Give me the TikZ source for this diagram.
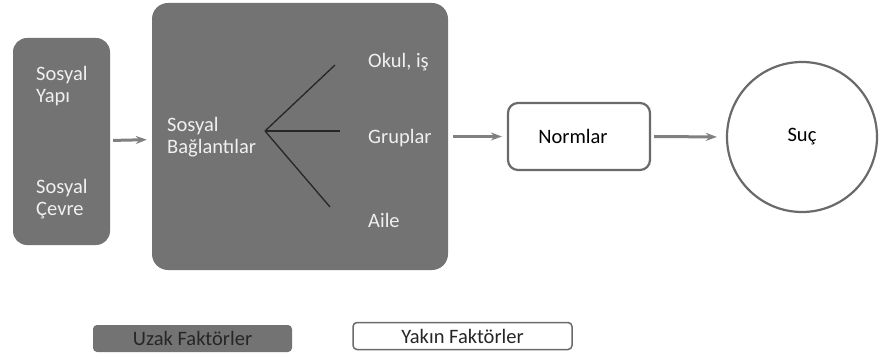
\documentclass[tikz,border=0pt]{standalone}
\usepackage{fontspec}
\setmainfont{Carlito}
\usepackage{tikz}
\usetikzlibrary{positioning, arrows.meta}

\definecolor{boxgray}{HTML}{737373}
\definecolor{edgegray}{HTML}{6A6A6A}
\definecolor{arrowgray}{HTML}{808080}
\definecolor{inkdark}{HTML}{262626}

\begin{document}
\begin{tikzpicture}[
  x=1pt, y=-1pt,
  font=\fontsize{20.5}{22}\selectfont,
  farbox/.style={rectangle, fill=boxgray, draw=none, rounded corners=14pt},
  nearbox/.style={rectangle, draw=edgegray, line width=2.2pt, rounded corners=10pt, fill=white},
  lbl/.style={text=white!94!black, anchor=west, align=left, inner sep=0pt},
  legendbox/.style={rectangle, minimum height=27pt, rounded corners=4pt, inner sep=0pt, text=inkdark},
  flow/.style={-{Stealth[length=11pt, width=8pt]}, arrowgray, line width=3pt},
  branch/.style={inkdark, line width=1.3pt}
]
\useasboundingbox (0,0) rectangle (880,358);

% Boxes
\node[farbox, minimum width=97pt, minimum height=207pt] (yapibox) at (61.5,141.5) {};
\node[farbox, minimum width=296pt, minimum height=267pt, rounded corners=16pt] (baglbox) at (300,136.5) {};
\node[nearbox, minimum width=142pt, minimum height=67pt] (normlar) at (579,136.5) {Normlar\hspace*{12pt}};
\node[circle, draw=edgegray, line width=2.2pt, minimum size=150pt] (suc) at (802,137) {Suç};

% Texts in the boxes
\node[lbl] (yapi) at (36,86) {Sosyal\\Yapı};
\node[lbl] (cevre) at (36,199) {Sosyal\\Çevre};
\node[lbl] (bagl) at (167,137.5) {Sosyal\\Bağlantılar};
\node[lbl] (okul) at (368,62) {Okul, iş};
\node[lbl] (gruplar) at (368,138) {Gruplar};
\node[lbl] (aile) at (368,220) {Aile};

% Branches
\coordinate (hub) at (265,131);
\coordinate (okulend) at (335,65);
\coordinate (grupend) at (340,131);
\coordinate (aileend) at (330,207);
\draw[branch] (hub) -- (okulend);
\draw[branch] (hub) -- (grupend);
\draw[branch] (hub) -- (aileend);

% Flow
\draw[flow, shorten <=3pt, shorten >=5pt] (yapibox) -- (baglbox);
\draw[flow, shorten <=5pt, shorten >=5pt] (baglbox.east |- normlar.west) -- (normlar.west);
\draw[flow, shorten <=3pt, shorten >=9pt] (normlar.east) -- (suc.west);

% Legend
\node[legendbox, fill=boxgray, minimum width=199pt] (uzak) at (192.5,338.5) {Uzak Faktörler};
\node[legendbox, draw=edgegray, line width=1.5pt, fill=white, minimum width=219pt] (yakin) at (462.5,336) {Yakın Faktörler};

\end{tikzpicture}
\end{document}
